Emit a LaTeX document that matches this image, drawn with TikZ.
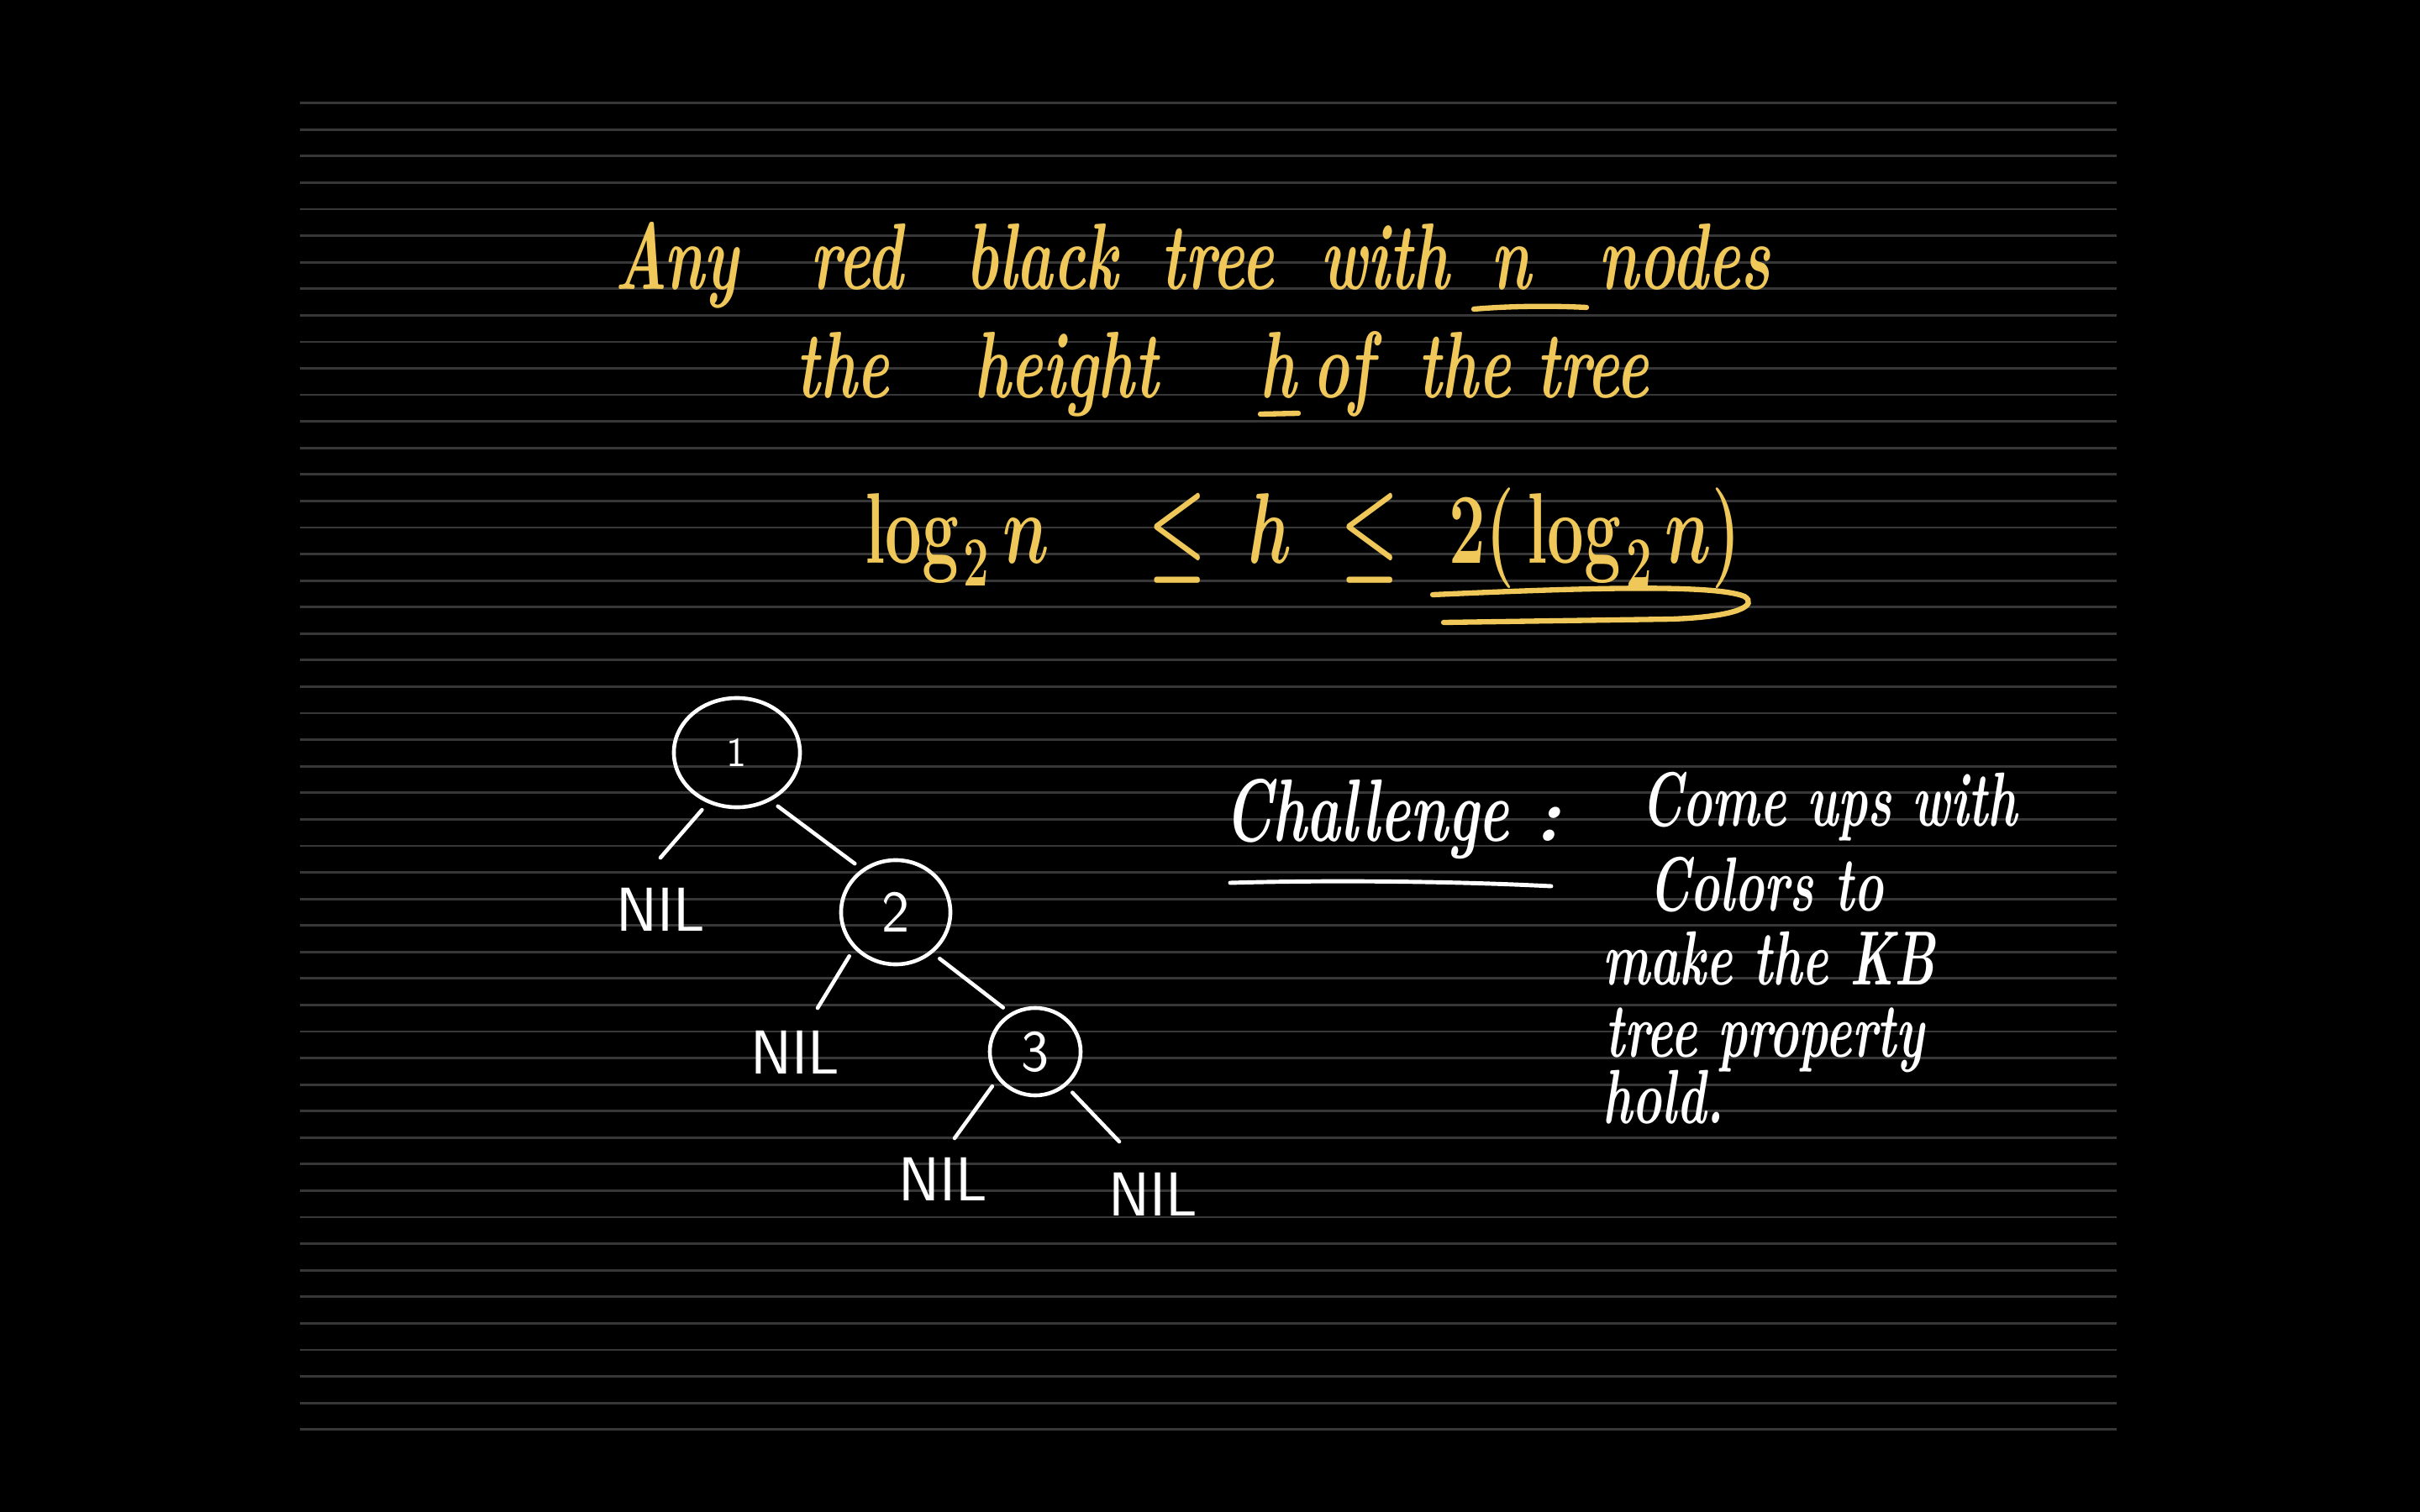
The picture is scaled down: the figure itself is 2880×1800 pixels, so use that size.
\RequirePackage{fix-cm}
\documentclass[tikz,border=0pt]{standalone}
\usepackage{graphicx}
\usetikzlibrary{shapes.geometric,calc}
\definecolor{chalkyellow}{RGB}{240,200,90}
\definecolor{ruleclr}{RGB}{55,55,55}
\newcommand\hw[1]{\scalebox{0.65}[1]{#1}}
\tikzset{
  ruleline/.style={draw=ruleclr, line width=0.8pt},
  yw/.style={text=chalkyellow, font=\fontsize{32}{38}\selectfont\bfseries\itshape, inner sep=0pt, anchor=base},
  mth/.style={text=chalkyellow, font=\fontsize{34}{40}\selectfont\boldmath, inner sep=0pt, anchor=base},
  ww/.style={text=white, font=\fontsize{26}{31}\selectfont\bfseries\itshape, inner sep=0pt, anchor=base west},
  nil/.style={text=white, font=\fontsize{21}{25}\selectfont\sffamily, inner sep=0pt, anchor=base},
  tnode/.style={ellipse, draw=white, line width=1.3pt, text=white, font=\fontsize{20}{24}\selectfont\sffamily, inner sep=0pt},
  edge/.style={draw=white, line width=1.3pt, line cap=round, shorten <=3pt},
  yline/.style={draw=chalkyellow, line width=1.8pt, line cap=round},
  wline/.style={draw=white, line width=1.4pt, line cap=round},
}
\begin{document}
\begin{tikzpicture}[x=0.01cm,y=-0.01cm]
\fill[black] (0,0) rectangle (2880,1800);
\useasboundingbox (0,0) rectangle (2880,1800);
\foreach \k in {0,...,50} {
  \draw[ruleline] (357,{122.7+31.58*\k}) -- (2519,{122.7+31.58*\k});
}
% line 1
\node[yw] (w1) at (805,345) {\hw{Any}};
\node[yw] (w2) at (1020,345) {\hw{red}};
\node[yw] (w3) at (1240,345) {\hw{black}};
\node[yw] (w4) at (1449,345) {\hw{tree}};
\node[yw] (w5) at (1648,345) {\hw{with}};
\node[yw] (w6) at (1798,345) {\hw{n}};
\node[yw] (w7) at (2005,345) {\hw{nodes}};
\draw[yline] (1754,368) .. controls (1800,364) and (1850,364) .. (1888,366);
% line 2
\node[yw] (v1) at (1003,474) {\hw{the}};
\node[yw] (v2) at (1269,474) {\hw{height}};
\node[yw] (v3) at (1521,474) {\hw{h}};
\node[yw] (v4) at (1599,474) {\hw{of}};
\node[yw] (v5) at (1825,474) {\hw{the tree}};
\draw[yline] (1500,493) -- (1545,492);
% line 3
\node[mth] (m1) at (1139,670) {\hw{$\log_{\kern2pt 2} n$}};
\node[mth] (m2) at (1401,670) {\hw{$\leq$}};
\node[mth] (m3) at (1511,670) {\hw{$h$}};
\node[mth] (m4) at (1630,670) {\hw{$\leq$}};
\node[mth] (m5) at (1898,670) {\hw{$2\big(\log_{\kern2pt 2} n\big)$}};
\draw[yline] (1705,708) .. controls (1880,700) and (2040,695) .. (2076,710)
  .. controls (2092,720) and (2070,734) .. (1990,737) -- (1718,741);
% tree
\node[tnode, minimum width=1.5cm, minimum height=1.3cm] (c1) at (877,896) {\fontsize{14}{16}\selectfont 1};
\node[tnode, minimum width=1.3cm, minimum height=1.24cm] (c2) at (1066,1086) {2};
\node[tnode, minimum width=1.08cm, minimum height=1.04cm] (c3) at (1232,1252) {3};
\node[nil] (n1) at (786,1108) {NIL};
\node[nil] (n2) at (946,1278) {NIL};
\node[nil] (n3) at (1122,1429) {NIL};
\node[nil] (n4) at (1372,1447) {NIL};
\draw[edge] (c1.240) -- ($(n1.north)+(0,-35)$);
\draw[edge, shorten >=3pt] (c1.305) -- (c2.128);
\draw[edge] (c2.221) -- ($(n2.north)+(27,-26)$);
\draw[edge, shorten >=3pt] (c2.312) -- (c3.123);
\draw[edge] (c3.216) -- ($(n3.north)+(14,-22)$);
\draw[edge] (c3.312) -- ($(n4.north)+(-40,-36)$);
% challenge
\node[ww, font=\fontsize{30}{36}\selectfont\bfseries\itshape] (ch) at (1457,1001) {\hw{Challenge}};
\node[ww, anchor=base] (colon) at (1842,1001) {:};
\draw[wline] (1464,1051) .. controls (1600,1047) and (1750,1050) .. (1846,1055);
\node[ww] (r1) at (1953,983) {\hw{Come ups with}};
\node[ww] (r2) at (1962,1084) {\hw{Colors to}};
\node[ww] (r3) at (1907,1172) {\hw{make the KB}};
\node[ww] (r4) at (1910,1258) {\hw{tree property}};
\node[ww] (r5) at (1907,1337) {\hw{hold.}};
\end{tikzpicture}
\end{document}
